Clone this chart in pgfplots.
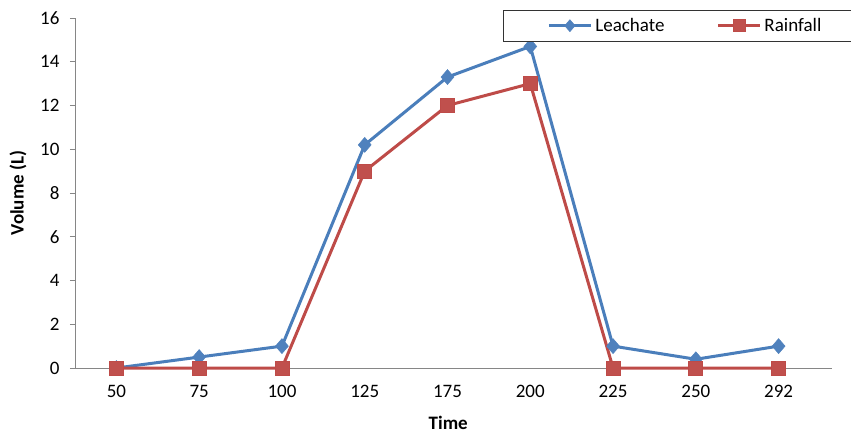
\documentclass[border=0pt]{standalone}
\usepackage{fontspec}
\setmainfont{Carlito}
\usepackage{pgfplots}
\pgfplotsset{compat=1.18}
\definecolor{lblue}{RGB}{74,126,187}
\definecolor{mblue}{RGB}{79,129,189}
\definecolor{lred}{RGB}{190,75,72}
\definecolor{mred}{RGB}{192,80,77}
\definecolor{axgray}{RGB}{134,134,134}
\begin{document}
\begin{tikzpicture}[x=1pt,y=1pt]
\begin{axis}[
  at={(0,0)}, anchor=south west,
  scale only axis, width=745pt, height=350pt,
  xmin=-0.5, xmax=8.5, ymin=0, ymax=16,
  xtick={0,...,8},
  xticklabels={50,75,100,125,175,200,225,250,292},
  ytick={0,2,...,16},
  axis x line*=bottom, axis y line*=left,
  axis line style={axgray, line width=0.8pt, -},
  x axis line style={shorten >=-12pt},
  major x tick style={draw=none},
  major y tick style={axgray, line width=0.8pt},
  tick align=outside, major tick length=5pt,
  /pgf/number format/assume math mode=true,
  ticklabel style={font=\fontsize{19}{22}\selectfont, black},
  xticklabel style={yshift=-9pt},
  yticklabel style={xshift=-7pt},
  xlabel={\textbf{Time}}, ylabel={\textbf{Volume (L)}},
  label style={font=\fontsize{19}{22}\selectfont},
  xlabel style={at={(axis description cs:0.501,-0.157)}, anchor=center},
  ylabel style={at={(axis description cs:-0.0765,0.5)}, anchor=center},
  clip=false,
  legend columns=2,
  legend style={at={(axis description cs:0.5745,1.023)}, anchor=north west, draw=black!80, line width=0.8pt,
    font=\fontsize{19}{22}\selectfont, inner ysep=6pt, inner xsep=44pt,
    /tikz/every odd column/.append style={column sep=1pt},
    /tikz/every even column/.append style={column sep=50pt}},
  legend image code/.code={
    \draw[#1, mark=none] (0pt,0pt) -- (42pt,0pt);
    \draw[#1, only marks, mark size=6pt] plot coordinates {(21pt,0pt)};
  },
]
\addplot[lblue, line width=3pt, mark=diamond*, mark size=7.5pt,
  mark options={fill=mblue, draw=mblue, line width=0.5pt, xscale=1.15}]
  coordinates {(0,0) (1,0.5) (2,1.0) (3,10.2) (4,13.3) (5,14.7) (6,1.0) (7,0.4) (8,1.0)};
\addlegendentry{Leachate}
\addplot[lred, line width=3pt, mark=square*, mark size=7pt,
  mark options={fill=mred, draw=lred, line width=0.8pt}]
  coordinates {(0,0) (1,0) (2,0) (3,9.0) (4,12.0) (5,13.0) (6,0) (7,0) (8,0)};
\addlegendentry{Rainfall}
\end{axis}
\pgfresetboundingbox
\path[use as bounding box] (-75pt,-66pt) rectangle (776pt,368pt);
\end{tikzpicture}
\end{document}
